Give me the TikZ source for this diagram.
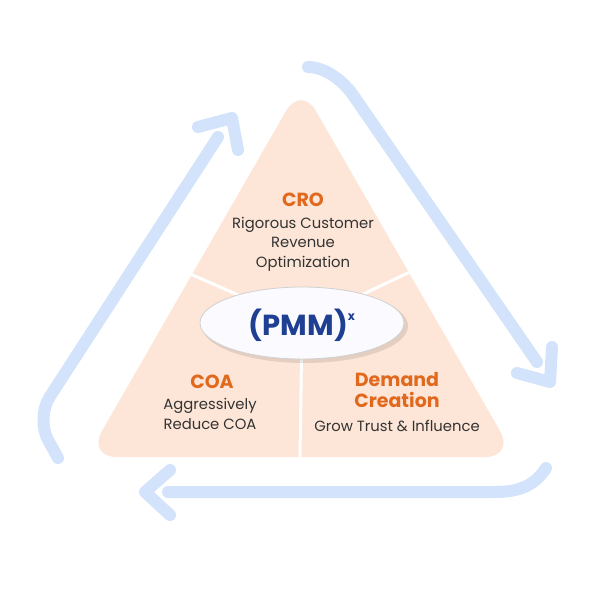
\documentclass[tikz,border=0pt]{standalone}
\usepackage{fontspec}
\setmainfont{Poppins}
\usetikzlibrary{shapes.geometric}
\definecolor{peach}{HTML}{FDE6D7}
\definecolor{cycblue}{HTML}{D3E3FB}
\definecolor{headorange}{HTML}{E0691E}
\definecolor{pmmblue}{HTML}{1E3F92}
\definecolor{bodygray}{HTML}{333333}
\tikzset{
  cycarrow/.style={line width=12pt,color=cycblue,line cap=round,line join=round},
  headtxt/.style={font=\bfseries\fontsize{19}{20.5}\selectfont,text=headorange,align=center},
  bodytxt/.style={font=\fontsize{14.8}{19.5}\selectfont,text=bodygray,align=center},
  divider/.style={white,line width=3pt}
}
\begin{document}
\begin{tikzpicture}[x=1pt,y=-1pt]
 \useasboundingbox[fill=white] (0,0) rectangle (600,600);
 % the three arrows going round
 \draw[cycarrow,rounded corners=25] (58,458) -- (36,418) -- (218,137);
 \draw[cycarrow] (198,127) -- (232,118) -- (238,150);
 \draw[cycarrow] (308,67) .. controls (326,67) and (344,82) .. (353,95) -- (537,362);
 \draw[cycarrow] (552,347) -- (550,382) -- (517,373);
 \draw[cycarrow] (546,468) .. controls (535,485) and (520,492) .. (495,492) -- (168,492);
 \draw[cycarrow] (170,470) -- (145,492) -- (170,515);
 % pyramid
 \fill[peach,rounded corners=30] (301,85) -- (515,457) -- (87,457) -- cycle;
 \coordinate (mid) at (302,323);
 \coordinate (cutl) at (188,273);
 \coordinate (cutr) at (410,272);
 \coordinate (cutb) at (300,457);
 \foreach \c in {cutl,cutr,cutb}
    \draw[divider] (mid) -- (\c);
 \fill[black,opacity=0.10] (305,326) ellipse [x radius=103,y radius=37];
 \node[ellipse,fill=black!7!blue!2!white,draw=black!18,line width=0.8pt,
       minimum width=204pt,minimum height=72pt,inner sep=0pt] (pmm) at (mid) {};
 \node[font=\bfseries\fontsize{29}{29}\selectfont,text=pmmblue] (pmmtxt) at (302,325)
    {(PMM)\raisebox{0.5em}{\fontsize{12}{12}\selectfont x}};
 % labels
 \node[headtxt] (cro) at (303,200) {CRO};
 \node[bodytxt] (crotxt) at (303,244) {Rigorous Customer\\Revenue\\Optimization};
 \node[headtxt] (coa) at (212,382) {COA};
 \node[bodytxt] (coatxt) at (210,414) {Aggressively\\Reduce COA};
 \node[headtxt] (dem) at (397,390) {Demand\\Creation};
 \node[bodytxt] (demtxt) at (397,426) {Grow Trust \& Influence};
\end{tikzpicture}
\end{document}
